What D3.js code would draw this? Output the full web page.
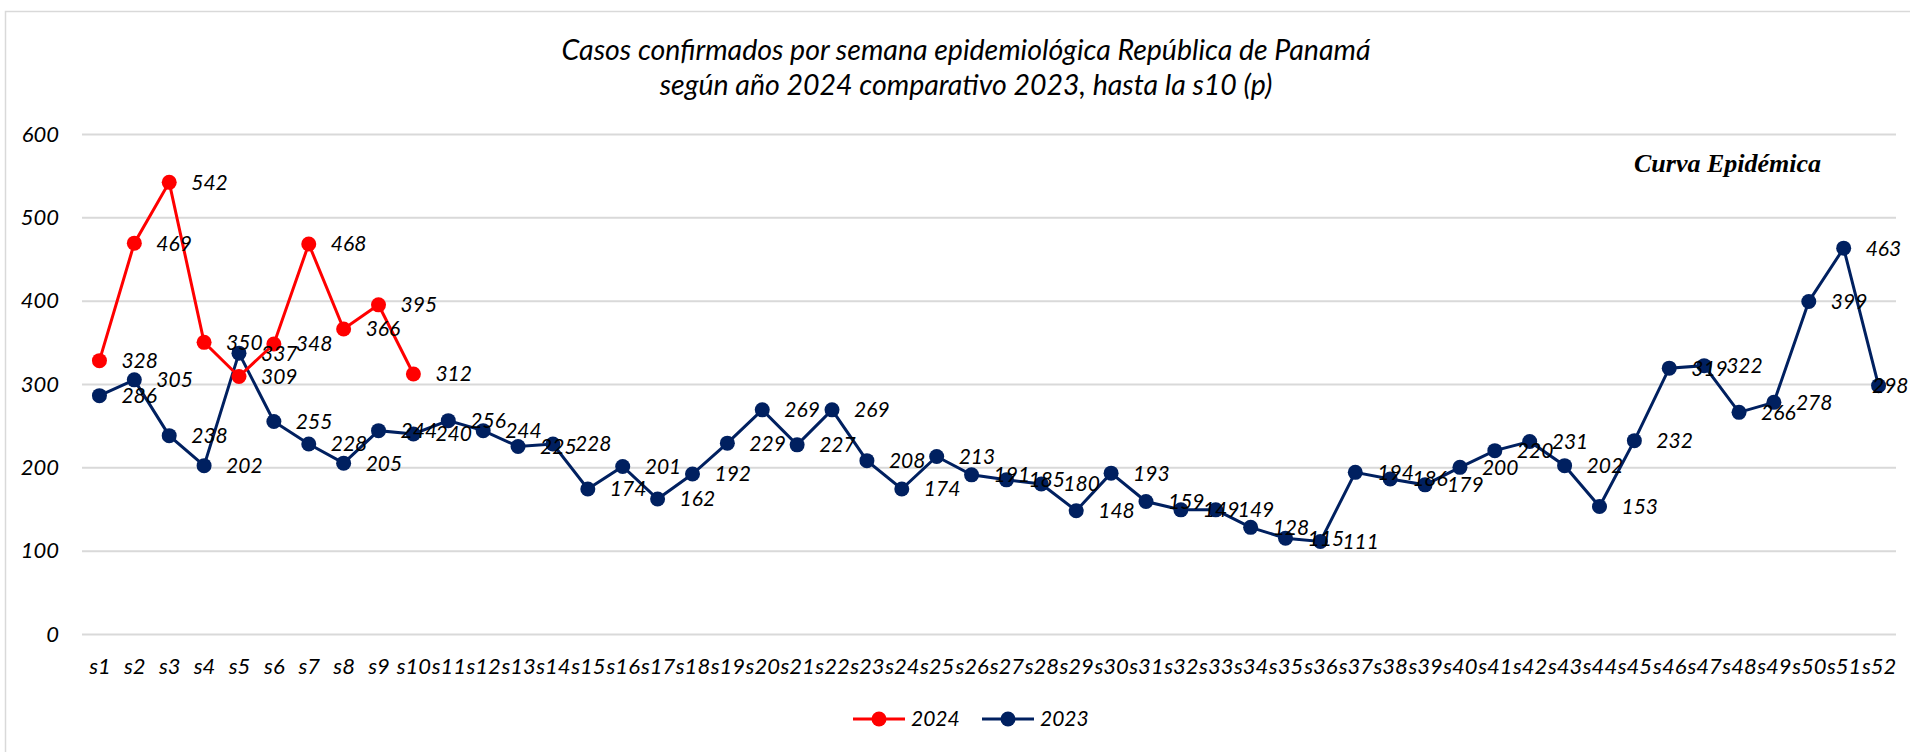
<!DOCTYPE html>
<html>
<head>
<meta charset="utf-8">
<script src="https://cdn.jsdelivr.net/npm/d3@7"></script>
<style>
  body { margin: 0; background: #fff; }
  svg { display: block; }
  text { font-family: Lato, 'Open Sans', sans-serif; font-style: italic; fill: #000; }
</style>
</head>
<body>
<svg width="1910" height="752"></svg>
<script>
const weeks = d3.range(1, 53).map(i => 's' + i)
const values2024 = [328, 469, 542, 350, 309, 348, 468, 366, 395, 312]
const values2023 = [286, 305, 238, 202, 337, 255, 228, 205, 244, 240,
    256, 244, 225, 228, 174, 201, 162, 192, 229, 269,
    227, 269, 208, 174, 213, 191, 185, 180, 148, 193,
    159, 149, 149, 128, 115, 111, 194, 186, 179, 200,
    220, 231, 202, 153, 232, 319, 322, 266, 278, 399,
    463, 298]
const yTicks = [0, 100, 200, 300, 400, 500, 600]
const seriesNames = ['2024', '2023']
const seriesColors = ['#ff0000', '#002060']
const titleLines = ['Casos confirmados por semana epidemiológica República de Panamá',
    'según año 2024 comparativo 2023, hasta la s10 (p)']

const series = [
    { name: seriesNames[0], color: seriesColors[0], values: values2024 },
    { name: seriesNames[1], color: seriesColors[1], values: values2023 }
]

const svg = d3.select('svg')
const margin = { top: 134, left: 82, right: 14, bottom: 118 },
    width = +svg.attr('width') - margin.left - margin.right,
    height = +svg.attr('height') - margin.top - margin.bottom,
    r = 7.5

// outer frame
svg.append('rect')
    .attr('x', 5.5).attr('y', 11.5)
    .attr('width', 1930).attr('height', 780)
    .attr('fill', 'none')
    .attr('stroke', '#d9d9d9')
    .attr('stroke-width', 1.5)

// title
svg.append('g').selectAll('text')
    .data(titleLines)
    .enter().append('text')
    .attr('x', 966)
    .attr('y', (d, i) => 60 + i * 35)
    .attr('text-anchor', 'middle')
    .attr('font-size', 28.5)
    .text(d => d)

svg.append('text')
    .attr('x', 1634)
    .attr('y', 172)
    .style('font-family', "'Liberation Serif', 'Times New Roman', serif")
    .style('font-weight', 'bold')
    .attr('font-size', 26)
    .text('Curva Epidémica')

const chart = svg.append('g')
    .attr('transform', `translate(${margin.left},${margin.top})`)

const x = d3.scalePoint()
    .domain(weeks)
    .range([0, width])
    .padding(0.5)
const y = d3.scaleLinear()
    .domain([0, 600])
    .range([height, 0])

// gridlines + y labels
const yAxis = chart.append('g')
    .call(d3.axisLeft(y).tickValues(yTicks).tickSize(-width).tickPadding(23))
yAxis.select('.domain').remove()
yAxis.selectAll('line').attr('stroke', '#d9d9d9').attr('stroke-width', 2)
yAxis.selectAll('text').attr('font-size', 22).attr('font-family', null)

// x labels
const xAxis = chart.append('g')
    .attr('transform', `translate(0,${height})`)
    .call(d3.axisBottom(x).tickSize(0).tickPadding(24))
xAxis.select('.domain').remove()
xAxis.selectAll('text').attr('font-size', 22).attr('font-family', null)

const line = d3.line()
    .x((d, i) => x(weeks[i]))
    .y(d => y(d))

// draw 2023 beneath 2024
const groups = chart.selectAll('.series')
    .data(series.slice().reverse())
    .enter().append('g')
    .attr('class', 'series')

groups.append('path')
    .attr('d', d => line(d.values))
    .attr('fill', 'none')
    .attr('stroke', d => d.color)
    .attr('stroke-width', 3)

groups.selectAll('circle')
    .data(d => d.values.map((v, i) => ({ v, i, color: d.color })))
    .enter().append('circle')
    .attr('cx', d => x(weeks[d.i]))
    .attr('cy', d => y(d.v))
    .attr('r', r)
    .attr('fill', d => d.color)

// data labels, to the right of each point (kept inside the frame)
const maxLabelX = 1908 - margin.left - 36
const labels = chart.append('g')
series.slice().reverse().forEach(s => {
    labels.selectAll(null)
        .data(s.values.map((v, i) => ({ v, i })))
        .enter().append('text')
        .attr('x', d => Math.min(x(weeks[d.i]) + 22, maxLabelX))
        .attr('y', d => y(d.v))
        .attr('dy', '.35em')
        .attr('font-size', 21)
        .text(d => d.v)
})

// legend
const legend = svg.append('g')
    .attr('transform', 'translate(853,719)')
const item = legend.selectAll('g')
    .data(series)
    .enter().append('g')
    .attr('transform', (d, i) => `translate(${i * 129},0)`)
item.append('line')
    .attr('x1', 0).attr('x2', 52)
    .attr('stroke', d => d.color)
    .attr('stroke-width', 3)
item.append('circle')
    .attr('cx', 26)
    .attr('r', r)
    .attr('fill', d => d.color)
item.append('text')
    .attr('x', 58)
    .attr('dy', '.35em')
    .attr('font-size', 21)
    .text(d => d.name)
</script>
</body>
</html>
